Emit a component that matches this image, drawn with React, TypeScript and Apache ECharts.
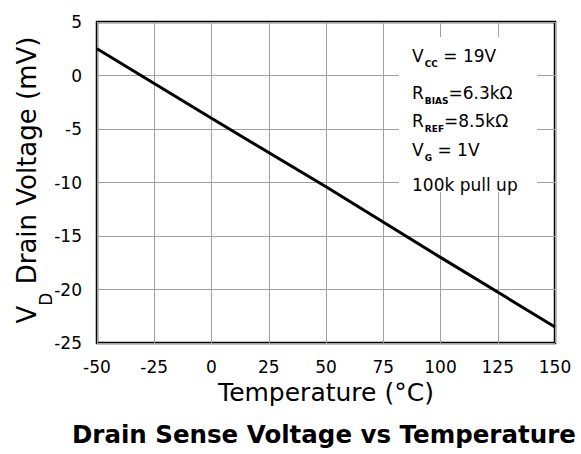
import React, { useEffect, useRef } from "react";
import * as echarts from "echarts";

// ---- data ----
const temperatures = [-50, 0, 50, 100, 150];
const drainVoltageMv = [2.5, -4.0, -10.4, -17.0, -23.5];

const xAxisMin = -50;
const xAxisMax = 150;
const xAxisStep = 25;
const yAxisMin = -25;
const yAxisMax = 5;
const yAxisStep = 5;

const titleText = "Drain Sense Voltage vs Temperature";
const xAxisTitle = "Temperature (°C)";
const yAxisMain = "V";
const yAxisSub = "D";
const yAxisRest = " Drain Voltage (mV)";

// annotation lines: main letter, subscript, remainder
const conditionMain = ["V", "R", "R", "V", "100k pull up"];
const conditionSub = ["CC", "BIAS", "REF", "G", ""];
const conditionRest = [" = 19V", "=6.3kΩ", "=8.5kΩ", " = 1V", ""];

const FONT = "DejaVu Sans";

export default function App() {
  const ref = useRef<HTMLDivElement>(null);

  useEffect(() => {
    if (!ref.current) return;
    const chart = echarts.init(ref.current, null, { renderer: "svg" });

    const lineTops = [47, 84, 112, 141, 176];
    const conditionTexts = conditionMain.map((m, i) => {
      const sub = conditionSub[i];
      const rest = conditionRest[i];
      const text = sub
        ? `{m|${m}}{s|${sub}}{m|${rest}}`
        : `{m|${m}}`;
      return {
        type: "text",
        z: 101,
        x: 412,
        y: lineTops[i],
        style: {
          text,
          align: "left",
          verticalAlign: "top",
          fill: "#000",
          rich: {
            m: {
              fontFamily: FONT,
              fontSize: 17,
              lineHeight: 17,
              verticalAlign: "top",
              fill: "#000",
            },
            s: {
              fontFamily: FONT,
              fontSize: 9,
              fontWeight: "bold",
              lineHeight: 9,
              padding: [12, 0, 0, 1],
              verticalAlign: "top",
              fill: "#000",
            },
          },
        },
      };
    });

    const option: any = {
      animation: false,
      backgroundColor: "#fff",
      grid: {
        left: 97,
        right: 26,
        top: 22,
        bottom: 111,
        show: true,
        borderColor: "#000",
        borderWidth: 2.5,
        backgroundColor: "transparent",
      },
      xAxis: {
        type: "value",
        min: xAxisMin,
        max: xAxisMax,
        interval: xAxisStep,
        axisLine: { show: false },
        axisTick: { show: false },
        splitLine: { show: true, lineStyle: { color: "#a0a0a0", width: 1 } },
        axisLabel: {
          color: "#000",
          fontFamily: FONT,
          fontSize: 17,
          margin: 15,
        },
        name: xAxisTitle,
        nameLocation: "middle",
        nameGap: 37,
        nameTextStyle: { color: "#000", fontFamily: FONT, fontSize: 25 },
      },
      yAxis: {
        type: "value",
        min: yAxisMin,
        max: yAxisMax,
        interval: yAxisStep,
        axisLine: { show: false },
        axisTick: { show: false },
        splitLine: { show: true, lineStyle: { color: "#a0a0a0", width: 1 } },
        axisLabel: {
          color: "#000",
          fontFamily: FONT,
          fontSize: 17,
          margin: 15,
        },
      },
      series: [
        {
          type: "line",
          data: temperatures.map((t, i) => [t, drainVoltageMv[i]]),
          showSymbol: false,
          symbol: "none",
          lineStyle: { color: "#000", width: 3 },
          z: 5,
        },
      ],
      graphic: [
        {
          type: "rect",
          z: 100,
          shape: { x: 399, y: 37, width: 138, height: 155 },
          style: { fill: "#fff", stroke: "none" },
        },
        ...conditionTexts,
        {
          type: "text",
          z: 101,
          x: 27,
          y: 180,
          rotation: Math.PI / 2,
          style: {
            text: `{m|${yAxisMain}}{s|${yAxisSub}}{m|${yAxisRest}}`,
            align: "center",
            verticalAlign: "middle",
            fill: "#000",
            rich: {
              m: {
                fontFamily: FONT,
                fontSize: 26,
                lineHeight: 26,
                verticalAlign: "top",
                fill: "#000",
              },
              s: {
                fontFamily: FONT,
                fontSize: 17,
                lineHeight: 17,
                padding: [23, 0, 0, 0],
                verticalAlign: "top",
                fill: "#000",
              },
            },
          },
        },
        {
          type: "text",
          z: 101,
          x: 72,
          y: 434,
          style: {
            text: titleText,
            align: "left",
            verticalAlign: "middle",
            fontFamily: FONT,
            fontSize: 24.5,
            fontWeight: "bold",
            fill: "#000",
          },
        },
      ],
    };

    chart.setOption(option);
    return () => chart.dispose();
  }, []);

  return (
    <div
      ref={ref}
      style={{ position: "fixed", left: 0, top: 0, width: 581, height: 454 }}
    />
  );
}
